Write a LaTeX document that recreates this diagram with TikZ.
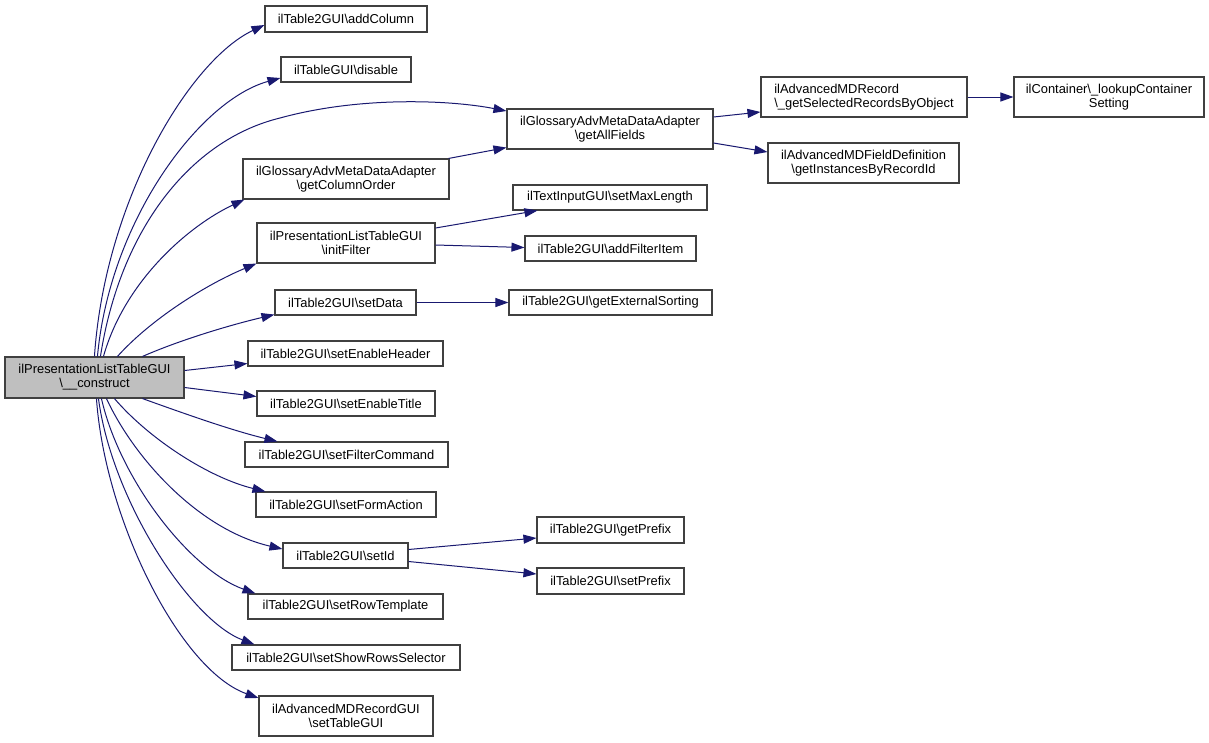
\documentclass[tikz,border=0pt]{standalone}
\usepackage{fontspec}
\setmainfont{Liberation Sans}
\usetikzlibrary{arrows.meta,calc}
\definecolor{edgec}{HTML}{191970}
\definecolor{boxc}{HTML}{404040}
\definecolor{mainfill}{HTML}{BFBFBF}
\newcommand\bx[7][]{%
  \pgfmathsetmacro\bw{#5-#3}\pgfmathsetmacro\bh{#6-#4}%
  \node[box,#1,minimum width=\bw pt,minimum height=\bh pt] (#2) at ({(#3+#5)/2},{(#4+#6)/2}) {#7};}
\newcommand\bs{\textbackslash}
\begin{document}
\begin{tikzpicture}[x=1pt,y=-1pt,
  box/.style={draw=boxc,line width=1.1pt,fill=white,inner sep=0pt,align=center,
    font=\fontsize{12.9}{14}\selectfont},
  edge/.style={draw=edgec,line width=1pt,-{Triangle[length=13pt,width=9pt,fill=edgec]}}]
\useasboundingbox (0,0) rectangle (1209,742);
\fill[white] (0,0) rectangle (1209,742);
\bx[fill=mainfill]{main}{5}{357}{184}{398}{ilPresentationListTableGUI\\\bs\_\_construct}
\bx{addColumn}{265}{6}{427}{32}{ilTable2GUI\bs addColumn}
\bx{disable}{281}{57}{411}{82}{ilTableGUI\bs disable}
\bx{colorder}{243}{159}{449}{199}{ilGlossaryAdvMetaDataAdapter\\\bs getColumnOrder}
\bx{allfields}{507}{109}{713}{149}{ilGlossaryAdvMetaDataAdapter\\\bs getAllFields}
\bx[align=left]{selrec}{761}{77}{967}{117}{ilAdvancedMDRecord\\\bs\_getSelectedRecordsByObject}
\bx{lookup}{1014}{77}{1204}{117}{ilContainer\bs\_lookupContainer\\Setting}
\bx{instances}{768}{143}{959}{183}{ilAdvancedMDFieldDefinition\\\bs getInstancesByRecordId}
\bx{maxlen}{513}{185}{707}{210}{ilTextInputGUI\bs setMaxLength}
\bx{initfilter}{257}{223}{435}{263}{ilPresentationListTableGUI\\\bs initFilter}
\bx{addfilter}{525}{236}{696}{261}{ilTable2GUI\bs addFilterItem}
\bx{setdata}{275}{290}{416}{315}{ilTable2GUI\bs setData}
\bx{extsort}{509}{290}{712}{315}{ilTable2GUI\bs getExternalSorting}
\bx{enheader}{248}{341}{443}{366}{ilTable2GUI\bs setEnableHeader}
\bx{entitle}{257}{391}{435}{416}{ilTable2GUI\bs setEnableTitle}
\bx{filtercmd}{245}{442}{448}{467}{ilTable2GUI\bs setFilterCommand}
\bx{formaction}{256}{492}{436}{517}{ilTable2GUI\bs setFormAction}
\bx{setid}{283}{543}{408}{568}{ilTable2GUI\bs setId}
\bx{getprefix}{537}{517}{684}{543}{ilTable2GUI\bs getPrefix}
\bx{setprefix}{537}{568}{684}{594}{ilTable2GUI\bs setPrefix}
\bx{rowtpl}{248}{594}{443}{619}{ilTable2GUI\bs setRowTemplate}
\bx{showrows}{232}{645}{460}{670}{ilTable2GUI\bs setShowRowsSelector}
\bx{tablegui}{259}{696}{433}{736}{ilAdvancedMDRecordGUI\\\bs setTableGUI}
% edges from main (top)
\draw[edge] ($(main.north west)+(90,0)$) .. controls (105,200) and (190,60) .. ($(addColumn.west)+(0,6)$);
\draw[edge] ($(main.north west)+(93,0)$) .. controls (110,220) and (200,100) .. ($(disable.west)+(0,8.5)$);
\draw[edge] ($(main.north west)+(96,0)$) .. controls (120,230) and (190,140) .. (280,118)
   .. controls (360,96) and (450,100) .. ($(allfields.west)+(0,-18)$);
\draw[edge] ($(main.north west)+(99,0)$) .. controls (125,280) and (190,225) .. ($(colorder.south west)+(2,0)$);
\draw[edge] ($(main.north west)+(113,0)$) .. controls (150,320) and (205,285) .. (initfilter.south west);
\draw[edge] ($(main.north west)+(138,0)$) .. controls (180,340) and (230,325) .. ($(setdata.south west)+(0,-1)$);
% right side
\draw[edge] ($(main.east)+(0,-7)$) -- ($(enheader.west)+(0,10)$);
\draw[edge] ($(main.east)+(0,10)$) -- ($(entitle.west)+(0,-7)$);
% bottom
\draw[edge] ($(main.south west)+(138,0)$) .. controls (180,412) and (230,430) .. ($(filtercmd.north west)+(33,0)$);
\draw[edge] ($(main.south west)+(110,0)$) .. controls (150,440) and (210,478) .. ($(formaction.north west)+(10,0)$);
\draw[edge] ($(main.south west)+(102,0)$) .. controls (135,460) and (200,530) .. ($(setid.west)+(0,-6.5)$);
\draw[edge] ($(main.south west)+(97,0)$) .. controls (120,480) and (190,570) .. ($(rowtpl.north west)+(8,0)$);
\draw[edge] ($(main.south west)+(94,0)$) .. controls (112,500) and (190,620) .. ($(showrows.north west)+(23,0)$);
\draw[edge] ($(main.south west)+(92,0)$) .. controls (105,520) and (180,670) .. ($(tablegui.west)+(0,-18)$);
% second level
\draw[edge] ($(colorder.north east)+(-1,0)$) -- ($(allfields.south west)+(0,-2)$);
\draw[edge] ($(initfilter.east)+(0,-15)$) -- ($(maxlen.south west)+(25,0)$);
\draw[edge] ($(initfilter.east)+(0,2)$) -- ($(addfilter.west)+(0,-1)$);
\draw[edge] (setdata.east) -- (extsort.west);
\draw[edge] ($(setid.east)+(0,-6)$) -- ($(getprefix.west)+(0,8)$);
\draw[edge] ($(setid.east)+(0,6)$) -- ($(setprefix.west)+(0,-7)$);
\draw[edge] ($(allfields.east)+(0,-12)$) -- ($(selrec.west)+(0,15)$);
\draw[edge] ($(allfields.east)+(0,14)$) -- ($(instances.west)+(0,-11)$);
\draw[edge] (selrec.east) -- (lookup.west);
\end{tikzpicture}
\end{document}
